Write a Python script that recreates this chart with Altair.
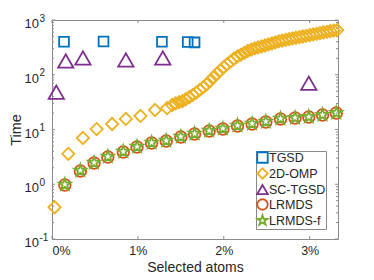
import altair as alt
import pandas as pd

methods = ["TGSD", "2D-OMP", "SC-TGSD", "LRMDS", "LRMDS-f"]
colors = ["#0072BD", "#EDB120", "#7E2F8E", "#D95319", "#77AC30"]
star = "M0,-1L0.225,-0.309L0.951,-0.309L0.363,0.118L0.588,0.809L0,0.382L-0.588,0.809L-0.363,0.118L-0.951,-0.309L-0.225,-0.309Z"
shapes = ["square", "diamond", "triangle-up", "circle", star]
sizes = [95, 150, 235, 135, 160]

tgsd_x = [0.14, 0.60, 1.28, 1.58, 1.66]
tgsd_y = [400, 405, 400, 395, 390]

omp_x = [0.03, 0.19, 0.36, 0.52, 0.70, 0.86, 1.03, 1.20, 1.34,
         1.40, 1.44, 1.48, 1.52, 1.56, 1.60, 1.64, 1.68, 1.72, 1.76,
         1.80, 1.84, 1.88, 1.92, 1.96, 2.00, 2.04, 2.08, 2.12, 2.16,
         2.20, 2.24, 2.28, 2.32, 2.36, 2.40, 2.44, 2.48, 2.52, 2.56,
         2.60, 2.64, 2.68, 2.72, 2.76, 2.80, 2.84, 2.88, 2.92, 2.96,
         3.00, 3.04, 3.08, 3.12, 3.16, 3.20, 3.24, 3.28, 3.32]
omp_y = [0.38, 3.6, 7.0, 10.2, 12.6, 15.6, 17.7, 22.7, 24.5,
         28, 30, 31.5, 33, 36, 39, 43, 47, 53, 59,
         67, 77, 90, 104, 120, 138, 156, 175, 196, 216,
         234, 252, 272, 288, 302, 315, 328, 342, 358, 372,
         390, 408, 420, 435, 448, 460, 474, 488, 500, 515,
         530, 545, 560, 578, 592, 608, 625, 640, 655]

sc_x = [0.05, 0.16, 0.36, 0.86, 1.29, 2.99]
sc_y = [48, 178, 202, 186, 202, 70]

lr_x = [0.15, 0.33, 0.49, 0.65, 0.83, 0.99, 1.16, 1.33, 1.50, 1.66,
        1.83, 1.99, 2.16, 2.33, 2.49, 2.66, 2.83, 2.99, 3.15, 3.31]
lr_y = [0.97, 1.75, 2.44, 3.15, 3.88, 4.79, 5.66, 6.16, 7.29, 8.28,
        9.40, 10.2, 11.6, 12.6, 13.7, 15.6, 16.2, 16.9, 18.4, 20.0]
lrf_y = [0.99, 1.78, 2.48, 3.2, 3.95, 4.85, 5.75, 6.25, 7.4, 8.4,
         9.5, 10.4, 11.8, 12.8, 13.9, 15.8, 16.4, 17.1, 18.6, 20.2]

y_ticks = [0.1, 1, 10, 100, 1000]
y_base = ["10", "10", "10", "10", "10"]
y_exp = ["-1", "0", "1", "2", "3"]
y_minor = [m * d for d in [0.1, 1, 10, 100] for m in range(2, 10)]
x_ticks = [0, 1, 2, 3]
x_labels = ["0%", "1%", "2%", "3%"]

series = [("TGSD", tgsd_x, tgsd_y), ("2D-OMP", omp_x, omp_y),
          ("SC-TGSD", sc_x, sc_y), ("LRMDS", lr_x, lr_y),
          ("LRMDS-f", lr_x, lrf_y)]

W, H = 286, 219
FONT = "Liberation Sans"
TXT = "#262626"
GRAY = "#8a8a8a"

xscale = alt.Scale(domain=[0, 3.33], nice=False, zero=False)
yscale = alt.Scale(type="log", domain=[0.1, 1000], nice=False)

xlab_expr = " : ".join(
    f"datum.value == {v} ? '{l}'" for v, l in zip(x_ticks, x_labels)) + " : ''"

rows = []
for i, ((name, xs, ys), sz) in enumerate(zip(series, sizes)):
    for a, b in zip(xs, ys):
        rows.append({"x": a, "y": b, "method": name, "sz": sz, "k": i})
df = pd.DataFrame(rows)
df["idx"] = range(len(df))

xaxis = alt.Axis(values=x_ticks, labelExpr=xlab_expr, ticks=False, grid=False,
                 domain=False, title="Selected atoms", labelPadding=5,
                 labelFontSize=12.5, titleFontSize=14,
                 titleX=W / 2, titleY=32, titleBaseline="alphabetic")
yaxis = alt.Axis(values=y_ticks, labels=False, ticks=False, grid=False, domain=False,
                 title="Time", titleX=-32, titleY=H / 2, titleBaseline="alphabetic",
                 titleAngle=270)

points = alt.Chart(df).mark_point(filled=False, strokeWidth=1.8, opacity=1).encode(
    x=alt.X("x:Q", scale=xscale, axis=xaxis),
    y=alt.Y("y:Q", scale=yscale, axis=yaxis),
    color=alt.Color("method:N", scale=alt.Scale(domain=methods, range=colors),
                    legend=alt.Legend(title=None, orient="none", legendX=204, legendY=131)),
    shape=alt.Shape("method:N", scale=alt.Scale(domain=methods, range=shapes)),
    size=alt.Size("sz:Q", scale=None),
    order=alt.Order("idx:Q"),
)

ymaj = pd.DataFrame({"v": y_ticks})
ymin = pd.DataFrame({"v": y_minor})
xmaj = pd.DataFrame({"v": x_ticks})

def yrules(d, L):
    left = alt.Chart(d).mark_rule(color=GRAY, strokeWidth=1).encode(
        y=alt.Y("v:Q", scale=yscale), x=alt.value(0), x2=alt.value(L))
    right = alt.Chart(d).mark_rule(color=GRAY, strokeWidth=1).encode(
        y=alt.Y("v:Q", scale=yscale), x=alt.value(W), x2=alt.value(W - L))
    return [left, right]

def xrules(d, L):
    bot = alt.Chart(d).mark_rule(color=GRAY, strokeWidth=1).encode(
        x=alt.X("v:Q", scale=xscale), y=alt.value(H), y2=alt.value(H - L))
    top = alt.Chart(d).mark_rule(color=GRAY, strokeWidth=1).encode(
        x=alt.X("v:Q", scale=xscale), y=alt.value(0), y2=alt.value(L))
    return [bot, top]

ylab = pd.DataFrame({"v": y_ticks, "base": y_base, "exp": y_exp})
base_txt = alt.Chart(ylab).mark_text(align="right", baseline="alphabetic", dy=8,
                                     fontSize=13, font=FONT, color=TXT).encode(
    y=alt.Y("v:Q", scale=yscale), x=alt.value(-13), text="base:N")
exp_txt = alt.Chart(ylab).mark_text(align="left", baseline="alphabetic", dy=1.5,
                                    fontSize=10, font=FONT, color=TXT).encode(
    y=alt.Y("v:Q", scale=yscale), x=alt.value(-12.5), text="exp:N")

layers = yrules(ymaj, 3) + yrules(ymin, 2) + xrules(xmaj, 3) + [points, base_txt, exp_txt]

chart = alt.layer(*layers).properties(
    width=W, height=H,
    autosize=alt.AutoSizeParams(type="none"),
    padding={"left": 44, "top": 12, "right": 28, "bottom": 33},
).configure_view(
    stroke=GRAY, strokeWidth=1
).configure_axis(
    labelFont=FONT, titleFont=FONT, labelColor=TXT, titleColor=TXT,
    labelFontSize=13, titleFontSize=14.5, titleFontWeight="normal",
).configure_legend(
    labelFont=FONT, labelFontSize=12.5, labelColor=TXT,
    strokeColor=GRAY, fillColor="white", padding=0,
    symbolStrokeWidth=1.8, symbolSize=110, rowPadding=-3,
    labelOffset=0, cornerRadius=0,
)

chart.save("out.html", embed_options={"renderer": "svg", "actions": False})
